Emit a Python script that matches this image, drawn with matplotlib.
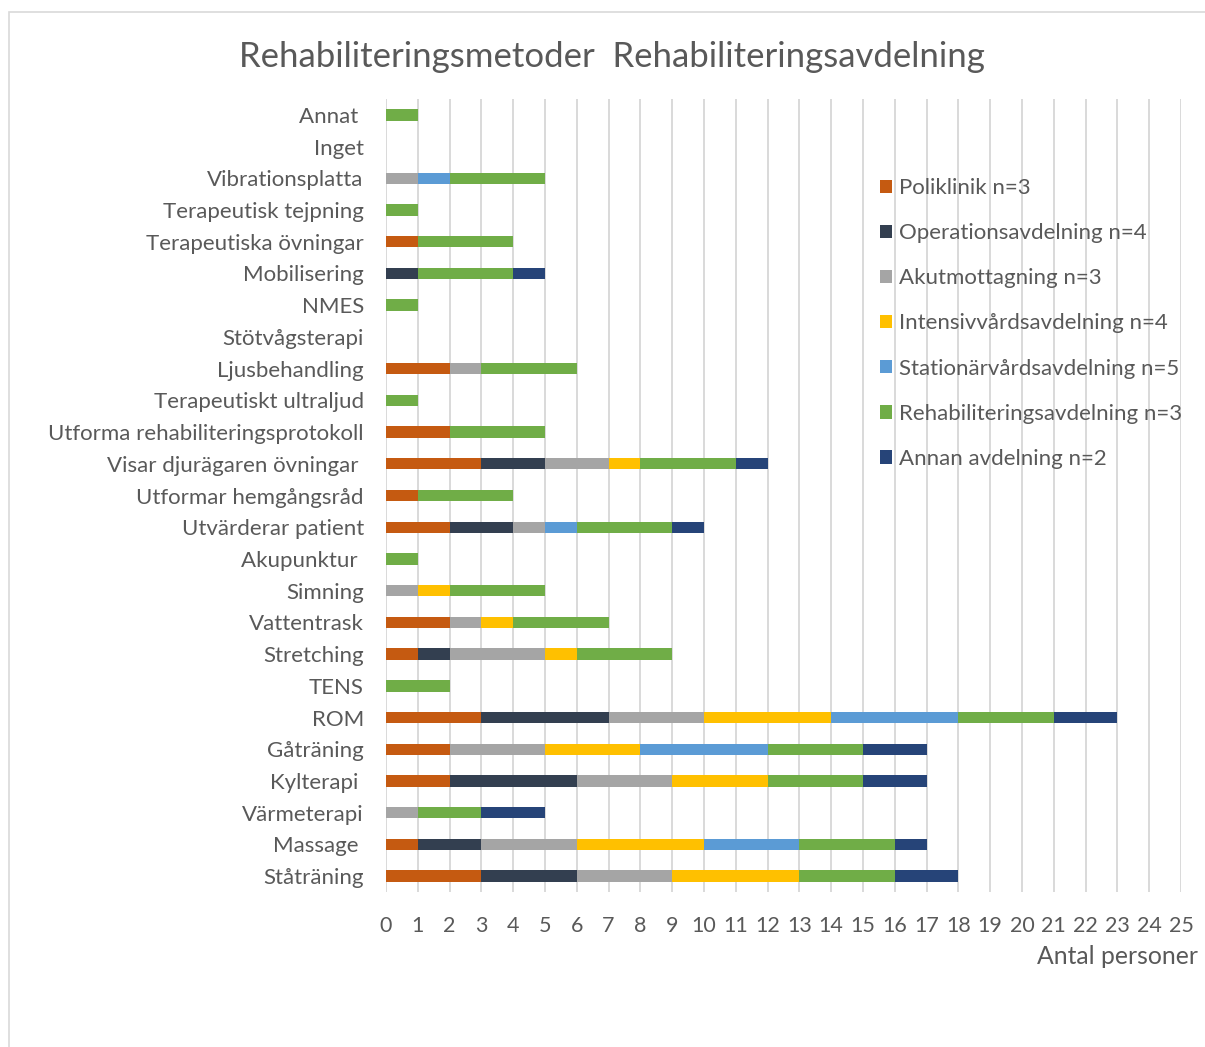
import matplotlib.pyplot as plt
import numpy as np
from matplotlib.patches import Rectangle

plt.rcParams['font.family'] = ['Lato', 'DejaVu Sans']

# categories, bottom to top
metoder = ["Ståträning", "Massage ", "Värmeterapi", "Kylterapi ", "Gåträning", "ROM", "TENS",
           "Stretching", "Vattentrask", "Simning", "Akupunktur ", "Utvärderar patient",
           "Utformar hemgångsråd", "Visar djurägaren övningar ", "Utforma rehabiliteringsprotokoll",
           "Terapeutiskt ultraljud", "Ljusbehandling", "Stötvågsterapi", "NMES", "Mobilisering",
           "Terapeutiska övningar", "Terapeutisk tejpning", "Vibrationsplatta", "Inget", "Annat "]

poliklinik = [3, 1, 0, 2, 2, 3, 0, 1, 2, 0, 0, 2, 1, 3, 2, 0, 2, 0, 0, 0, 1, 0, 0, 0, 0]
operation  = [3, 2, 0, 4, 0, 4, 0, 1, 0, 0, 0, 2, 0, 2, 0, 0, 0, 0, 0, 1, 0, 0, 0, 0, 0]
akut       = [3, 3, 1, 3, 3, 3, 0, 3, 1, 1, 0, 1, 0, 2, 0, 0, 1, 0, 0, 0, 0, 0, 1, 0, 0]
intensiv   = [4, 4, 0, 3, 3, 4, 0, 1, 1, 1, 0, 0, 0, 1, 0, 0, 0, 0, 0, 0, 0, 0, 0, 0, 0]
stationar  = [0, 3, 0, 0, 4, 4, 0, 0, 0, 0, 0, 1, 0, 0, 0, 0, 0, 0, 0, 0, 0, 0, 1, 0, 0]
rehab      = [3, 3, 2, 3, 3, 3, 2, 3, 3, 3, 1, 3, 3, 3, 3, 1, 3, 0, 1, 3, 3, 1, 3, 0, 1]
annan      = [2, 1, 2, 2, 2, 2, 0, 0, 0, 0, 0, 1, 0, 1, 0, 0, 0, 0, 0, 1, 0, 0, 0, 0, 0]

serier = [poliklinik, operation, akut, intensiv, stationar, rehab, annan]
namn = ["Poliklinik n=3", "Operationsavdelning n=4", "Akutmottagning n=3",
        "Intensivvårdsavdelning n=4", "Stationärvårdsavdelning n=5",
        "Rehabiliteringsavdelning n=3", "Annan avdelning n=2"]
farger = ["#C55A11", "#333F50", "#A5A5A5", "#FFC000", "#5B9BD5", "#70AD47", "#264478"]

textfarg = "#595959"

fig = plt.figure(figsize=(12.05, 10.47), dpi=100)
ax = fig.add_axes([386/1205, 1-892/1047, 795/1205, 793/1047])

y = np.arange(len(metoder))
left = np.zeros(len(metoder))
for vals, lab, c in zip(serier, namn, farger):
    ax.barh(y, vals, left=left, height=0.36, color=c, label=lab, zorder=3)
    left += np.array(vals)

ax.set_xlim(0, 25)
ax.set_ylim(-0.5, len(metoder) - 0.5)
ax.set_xticks(range(0, 26))
ax.set_yticks(y)
ax.set_yticklabels(metoder)
ax.grid(axis='x', color='#D9D9D9', lw=1.4, zorder=0)
for s in ax.spines.values():
    s.set_visible(False)
ax.tick_params(axis='both', length=0, colors=textfarg, labelsize=16)
ax.tick_params(axis='x', labelsize=15.5, pad=17)
ax.tick_params(axis='y', pad=16)

fig.text(0.508, 1-57/1047, "Rehabiliteringsmetoder  Rehabiliteringsavdelning",
         ha='center', va='center', fontsize=25, color=textfarg)
fig.text(1198/1205, 1-957/1047, "Antal personer", ha='right', va='center',
         fontsize=17.8, color=textfarg)

leg = ax.legend(loc='upper left', bbox_to_anchor=(869/1205, 1-167/1047),
                bbox_transform=fig.transFigure, frameon=False, fontsize=16,
                handlelength=0.55, handleheight=0.55, handletextpad=0.3,
                labelspacing=1.13, borderpad=0)
for t in leg.get_texts():
    t.set_color(textfarg)

fig.patches.append(Rectangle((9/1205, -0.1), 2, 1-12/1047+0.1, transform=fig.transFigure,
                             fill=False, edgecolor='#D9D9D9', lw=1.2))

fig.savefig("out.png", dpi=100)
